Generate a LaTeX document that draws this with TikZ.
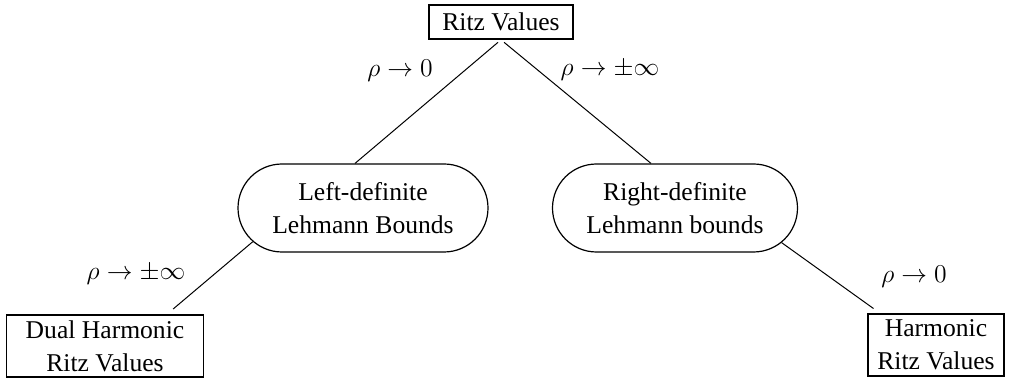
\documentclass[tikz,border=0pt]{standalone}
\usepackage{fontspec}
\setmainfont{Liberation Serif}
\usetikzlibrary{shapes.misc, positioning, calc}
\usepackage{amsmath}

\begin{document}
\begin{tikzpicture}[x=0.5pt, y=-0.5pt,
            every node/.style={font=\fontsize{12.8}{16.5}\selectfont},
            box/.style={draw, line width=0.8pt, align=center, inner sep=0pt},
            lem/.style={draw, rounded rectangle, line width=0.6pt, align=center, inner sep=0pt,
                        minimum width=125pt, minimum height=44pt},
            ed/.style={draw, line width=0.5pt},
            lbl/.style={inner sep=0pt, scale=1.07}]
            \useasboundingbox (0,0) rectangle (1012,379);
            \node[box, minimum width=72pt, minimum height=17pt] (ritz) at (501,22) {Ritz Values};
            \node[lem] (lb) at (363,208) {Left-definite\\Lehmann Bounds};
            \node[lem, minimum width=122.5pt] (rb) at (675,208) {Right-definite\\Lehmann bounds};
            \node[box, minimum width=98.5pt, minimum height=31pt] (dh) at (105,346) {Dual Harmonic\\Ritz Values};
            \node[box, minimum width=68pt, minimum height=31pt] (hr) at (936,345) {Harmonic\\Ritz Values};
            % edges
            \draw[ed, shorten <=2pt] (ritz.south) -- ([xshift=-4pt]lb.north);
            \draw[ed, shorten <=2pt] (ritz.south) -- ([xshift=-12pt]rb.north);
            \draw[ed, shorten >=4pt] (lb.197) -- ([xshift=31pt]dh.north);
            \draw[ed, shorten >=4pt] (rb.342) -- ([xshift=-28pt]hr.north);
            % labels
            \node[lbl] (l1) at (400,71) {$\rho \to 0$};
            \node[lbl] (l2) at (610,71) {$\rho \to \pm\infty$};
            \node[lbl] (l3) at (136,275) {$\rho \to \pm\infty$};
            \node[lbl] (l4) at (914,277) {$\rho \to 0$};
        \end{tikzpicture}
\end{document}
